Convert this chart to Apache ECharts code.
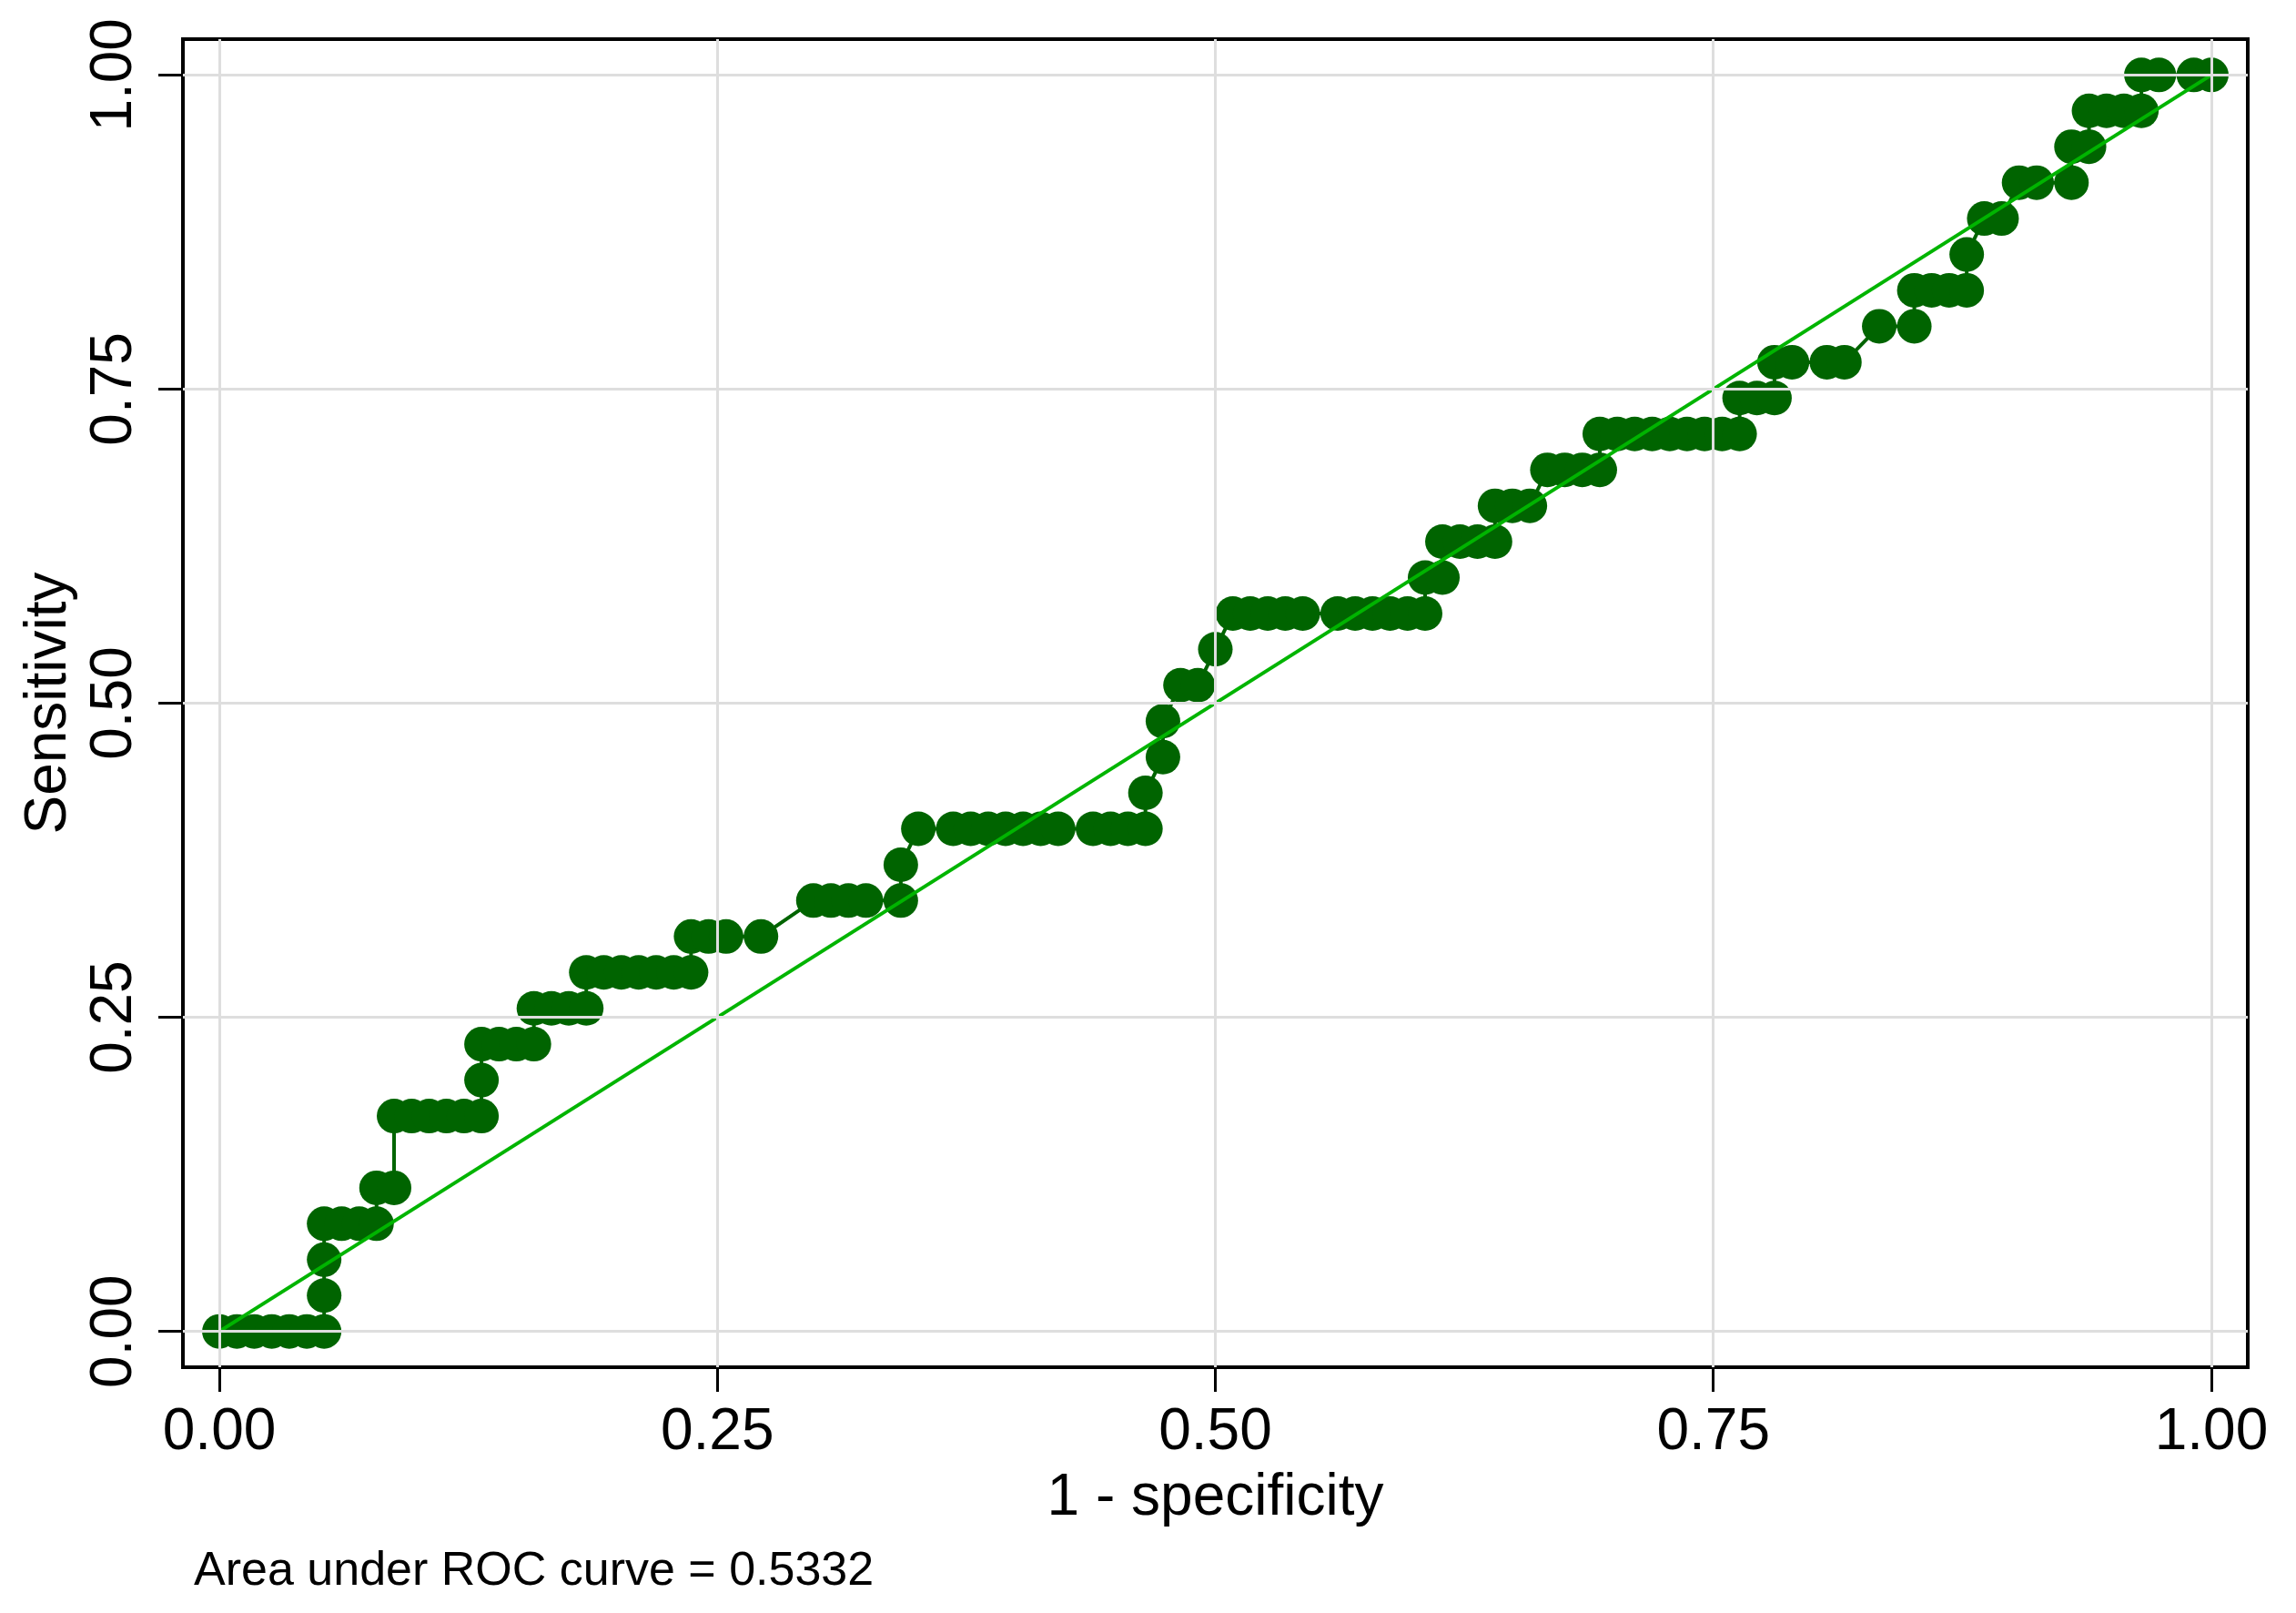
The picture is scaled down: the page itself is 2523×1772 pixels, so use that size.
<!DOCTYPE html>
<html>
<head>
<meta charset="utf-8">
<script src="https://cdn.jsdelivr.net/npm/echarts@6/dist/echarts.min.js"></script>
<style>
  html, body { margin: 0; padding: 0; background: #ffffff; }
  #chart { width: 2523px; height: 1772px; }
</style>
</head>
<body>
<div id="chart"></div>
<script>
// ---- data ----
const TICK_VALUES = [0, 0.25, 0.5, 0.75, 1];
const TICK_LABELS = ['0.00', '0.25', '0.50', '0.75', '1.00'];

// 1 - specificity (x) and sensitivity (y) of each ROC point
const FPR = [
  0, 0.0088, 0.0175, 0.0263, 0.0351, 0.0439, 0.0526,
  0.0526, 0.0526, 0.0526, 0.0614, 0.0702, 0.0789,
  0.0789, 0.0877,
  0.0877, 0.0965, 0.1053, 0.1140, 0.1228, 0.1316,
  0.1316,
  0.1316, 0.1404, 0.1491, 0.1579,
  0.1579, 0.1667, 0.1754, 0.1842,
  0.1842, 0.1930, 0.2018, 0.2105, 0.2193, 0.2281, 0.2368,
  0.2368, 0.2456, 0.2544, 0.2719,
  0.2982, 0.3070, 0.3158, 0.3246, 0.3421,
  0.3421,
  0.3509, 0.3684, 0.3772, 0.3860, 0.3947, 0.4035, 0.4123, 0.4211, 0.4386, 0.4474, 0.4561, 0.4649,
  0.4649, 0.4737, 0.4737, 0.4825, 0.4912, 0.5000,
  0.5088, 0.5175, 0.5263, 0.5351, 0.5439, 0.5614, 0.5702, 0.5789, 0.5877, 0.5965, 0.6053,
  0.6053, 0.6140,
  0.6140, 0.6228, 0.6316, 0.6404,
  0.6404, 0.6491, 0.6579,
  0.6667, 0.6754, 0.6842, 0.6930,
  0.6930, 0.7018, 0.7105, 0.7193, 0.7281, 0.7368, 0.7456, 0.7544, 0.7632,
  0.7632, 0.7719, 0.7807,
  0.7807, 0.7895, 0.8070, 0.8158,
  0.8333, 0.8509,
  0.8509, 0.8596, 0.8684, 0.8772,
  0.8772,
  0.8860, 0.8947,
  0.9035, 0.9123, 0.9298,
  0.9298, 0.9386,
  0.9386, 0.9474, 0.9561, 0.9649,
  0.9649, 0.9737, 0.9912, 1
];
const SENS = [
  0, 0, 0, 0, 0, 0, 0,
  0.0286, 0.0571, 0.0857, 0.0857, 0.0857, 0.0857,
  0.1143, 0.1143,
  0.1714, 0.1714, 0.1714, 0.1714, 0.1714, 0.1714,
  0.2000,
  0.2286, 0.2286, 0.2286, 0.2286,
  0.2571, 0.2571, 0.2571, 0.2571,
  0.2857, 0.2857, 0.2857, 0.2857, 0.2857, 0.2857, 0.2857,
  0.3143, 0.3143, 0.3143, 0.3143,
  0.3429, 0.3429, 0.3429, 0.3429, 0.3429,
  0.3714,
  0.4, 0.4, 0.4, 0.4, 0.4, 0.4, 0.4, 0.4, 0.4, 0.4, 0.4, 0.4,
  0.4286, 0.4571, 0.4857, 0.5143, 0.5143, 0.5429,
  0.5714, 0.5714, 0.5714, 0.5714, 0.5714, 0.5714, 0.5714, 0.5714, 0.5714, 0.5714, 0.5714,
  0.6000, 0.6000,
  0.6286, 0.6286, 0.6286, 0.6286,
  0.6571, 0.6571, 0.6571,
  0.6857, 0.6857, 0.6857, 0.6857,
  0.7143, 0.7143, 0.7143, 0.7143, 0.7143, 0.7143, 0.7143, 0.7143, 0.7143,
  0.7429, 0.7429, 0.7429,
  0.7714, 0.7714, 0.7714, 0.7714,
  0.8000, 0.8000,
  0.8286, 0.8286, 0.8286, 0.8286,
  0.8571,
  0.8857, 0.8857,
  0.9143, 0.9143, 0.9143,
  0.9429, 0.9429,
  0.9714, 0.9714, 0.9714, 0.9714,
  1, 1, 1, 1
];
// reference (chance) line
const DIAG_X = [0, 1];
const DIAG_Y = [0, 1];

const X_TITLE = '1 - specificity';
const Y_TITLE = 'Sensitivity';
const NOTE = 'Area under ROC curve = 0.5332';

// ---- layout / style ----
const FONT = "'Liberation Sans', Arial, Helvetica, sans-serif";
const PAD_X = 0.0183;
const PAD_Y = 0.0285;

const chart = echarts.init(document.getElementById('chart'), null, { renderer: 'canvas' });

const labelFmt = (v) => {
  for (let i = 0; i < TICK_VALUES.length; i++) {
    if (Math.abs(TICK_VALUES[i] - v) < 1e-9) return TICK_LABELS[i];
  }
  return '';
};

const option = {
  animation: false,
  backgroundColor: '#ffffff',
  title: {
    text: NOTE,
    left: 208,
    top: 1696,
    textStyle: { fontFamily: FONT, fontSize: 52, fontWeight: 'normal', color: '#000' }
  },
  grid: {
    left: 201, right: 53, top: 43, bottom: 270,
    show: true, borderColor: '#000', borderWidth: 4, backgroundColor: '#fff'
  },
  xAxis: {
    type: 'value',
    min: -PAD_X, max: 1 + PAD_X,
    axisLine: { show: true, onZero: false, lineStyle: { color: '#000', width: 4 } },
    axisTick: { show: true, customValues: TICK_VALUES, length: 27, lineStyle: { color: '#000', width: 3 } },
    axisLabel: { customValues: TICK_VALUES, formatter: labelFmt, fontFamily: FONT, fontSize: 64, color: '#000', margin: 40 },
    splitLine: { show: false },
    name: X_TITLE, nameLocation: 'middle', nameGap: 112,
    nameTextStyle: { fontFamily: FONT, fontSize: 64, color: '#000' }
  },
  yAxis: {
    type: 'value',
    min: -PAD_Y, max: 1 + PAD_Y,
    axisLine: { show: true, onZero: false, lineStyle: { color: '#000', width: 4 } },
    axisTick: { show: true, customValues: TICK_VALUES, length: 27, lineStyle: { color: '#000', width: 3 } },
    axisLabel: { customValues: TICK_VALUES, formatter: labelFmt, fontFamily: FONT, fontSize: 64, color: '#000', margin: 43, rotate: 90 },
    splitLine: { show: false },
    name: Y_TITLE, nameLocation: 'middle', nameGap: 114, nameRotate: 90,
    nameTextStyle: { fontFamily: FONT, fontSize: 64, color: '#000' }
  },
  series: [
    {
      name: 'grid',
      type: 'line',
      data: [[0, 0]],
      showSymbol: false,
      lineStyle: { opacity: 0 },
      silent: true,
      z: 1,
      markLine: {
        silent: true,
        symbol: 'none',
        label: { show: false },
        lineStyle: { color: '#dedede', width: 3, type: 'solid' },
        data: TICK_VALUES.map(v => ({ xAxis: v })).concat(TICK_VALUES.map(v => ({ yAxis: v })))
      }
    },
    {
      name: 'ROC',
      type: 'line',
      data: FPR.map((x, i) => [x, SENS[i]]),
      symbol: 'circle',
      symbolSize: 38,
      showAllSymbol: true,
      clip: false,
      itemStyle: { color: '#006400' },
      lineStyle: { color: '#006400', width: 4 },
      z: 3
    },
    {
      name: 'Reference',
      type: 'line',
      data: DIAG_X.map((x, i) => [x, DIAG_Y[i]]),
      symbol: 'none',
      lineStyle: { color: '#00b400', width: 4 },
      z: 4
    }
  ]
};
chart.setOption(option);
</script>
</body>
</html>
